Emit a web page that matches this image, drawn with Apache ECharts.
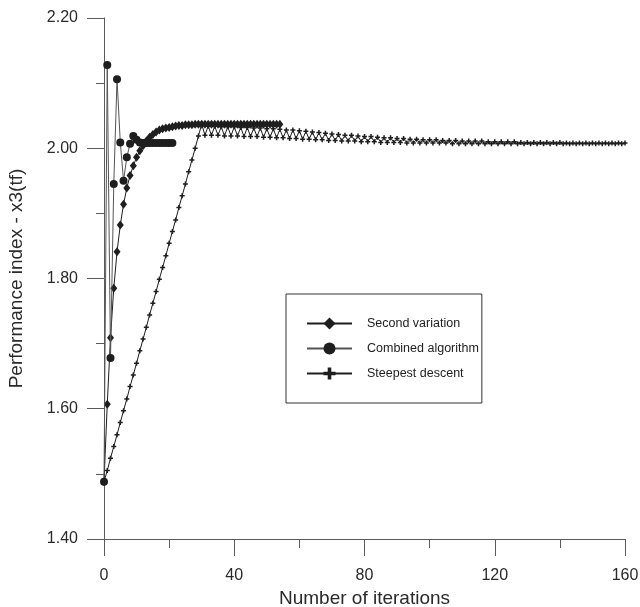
<!DOCTYPE html>
<html>
<head>
<meta charset="utf-8">
<script src="https://cdn.jsdelivr.net/npm/echarts@6/dist/echarts.min.js"></script>
<style>
  html, body { margin: 0; padding: 0; background: #ffffff; }
  #chart { width: 640px; height: 607px; }
</style>
</head>
<body>
<div id="chart"></div>
<script>
// Performance index x3(tf) per iteration for three optimisation methods
const seriesNames = ['Second variation', 'Combined algorithm', 'Steepest descent'];

// Second variation, iterations 0..54
const secondVariation = [
  1.488, 1.607, 1.709, 1.785, 1.841, 1.882, 1.914, 1.939, 1.958, 1.973,
  1.986, 1.996, 2.004, 2.011, 2.017, 2.021, 2.025, 2.028, 2.030, 2.031,
  2.032, 2.033, 2.034, 2.035, 2.035, 2.036, 2.036, 2.036, 2.037, 2.037,
  2.037, 2.037, 2.037, 2.037, 2.037, 2.037, 2.037, 2.037, 2.037, 2.037,
  2.037, 2.037, 2.037, 2.037, 2.037, 2.037, 2.037, 2.037, 2.037, 2.037,
  2.037, 2.037, 2.037, 2.037, 2.037
];

// Combined algorithm, iterations 0..21
const combinedAlgorithm = [
  1.488, 2.128, 1.678, 1.945, 2.106, 2.009, 1.950, 1.986, 2.007, 2.019,
  2.013, 2.009, 2.008, 2.008, 2.008, 2.008, 2.008, 2.008, 2.008, 2.008,
  2.008, 2.008
];

// Steepest descent, iterations 0..160
const steepestDescent = [
  1.488, 1.505, 1.524, 1.542, 1.560, 1.579, 1.597, 1.615, 1.634, 1.652,
  1.670, 1.689, 1.707, 1.725, 1.744, 1.762, 1.780, 1.799, 1.817, 1.835,
  1.854, 1.872, 1.890, 1.909, 1.927, 1.945, 1.964, 1.982, 2.000, 2.019,
  2.037,
  2.020, 2.034, 2.020, 2.034, 2.020, 2.033, 2.019, 2.033, 2.019, 2.033,
  2.019, 2.032, 2.018, 2.032, 2.018, 2.031, 2.018, 2.031, 2.017, 2.030,
  2.017, 2.030, 2.016, 2.029, 2.016, 2.028, 2.015, 2.028, 2.015, 2.027,
  2.014, 2.026, 2.014, 2.025, 2.013, 2.024, 2.013, 2.023, 2.012, 2.022,
  2.012, 2.021, 2.011, 2.020, 2.011, 2.020, 2.011, 2.019, 2.010, 2.018,
  2.010, 2.018, 2.010, 2.017, 2.009, 2.016, 2.009, 2.016, 2.009, 2.015,
  2.009, 2.015, 2.008, 2.014, 2.008, 2.014, 2.008, 2.013, 2.008, 2.013,
  2.008, 2.013, 2.008, 2.012, 2.008, 2.012, 2.007, 2.012, 2.007, 2.011,
  2.007, 2.011, 2.007, 2.011, 2.007, 2.011, 2.007, 2.010, 2.007, 2.010,
  2.007, 2.010, 2.007, 2.010, 2.007, 2.010, 2.007, 2.009, 2.007, 2.009,
  2.007, 2.009, 2.007, 2.009, 2.007, 2.009, 2.007, 2.009, 2.007, 2.009,
  2.007, 2.008, 2.007, 2.008, 2.007, 2.008, 2.007, 2.008, 2.007, 2.008,
  2.007, 2.008, 2.007, 2.008, 2.007, 2.008, 2.007, 2.008, 2.007, 2.008
];

// Axis extents and tick spacing
const xRange = [0, 160, 40];
const yRange = [1.40, 2.20, 0.20];

const toPoints = arr => arr.map((v, i) => [i, v]);

const FONT = '"Liberation Sans", Arial, sans-serif';
const INK = '#1e1e1e';
const TEXT = '#2a2a2a';
const AXIS = '#5a5a5a';
// plus-shaped marker, arms 30% of the box
const PLUS = 'path://M3.5,0 H6.5 V3.5 H10 V6.5 H6.5 V10 H3.5 V6.5 H0 V3.5 H3.5 Z';

const chart = echarts.init(document.getElementById('chart'), null, { renderer: 'canvas' });

chart.setOption({
  backgroundColor: '#ffffff',
  animation: false,
  grid: {
    left: 104, right: 15, top: 18, bottom: 68,
    containLabel: false,
    outerBoundsMode: 'none'
  },
  xAxis: {
    type: 'value',
    min: xRange[0], max: xRange[1], interval: xRange[2],
    name: 'Number of iterations',
    nameLocation: 'middle',
    nameGap: 46,
    nameTextStyle: { fontFamily: FONT, fontSize: 19, color: TEXT },
    axisLine: { show: true, lineStyle: { color: AXIS, width: 1 } },
    axisTick: { show: true, inside: false, length: 17, lineStyle: { color: AXIS } },
    minorTick: { show: true, splitNumber: 2, length: 9, lineStyle: { color: AXIS } },
    axisLabel: { margin: 29, fontFamily: FONT, fontSize: 16, color: TEXT },
    splitLine: { show: false }
  },
  yAxis: {
    type: 'value',
    min: yRange[0], max: yRange[1], interval: yRange[2],
    name: 'Performance index - x3(tf)',
    nameLocation: 'middle',
    nameRotate: 90,
    nameGap: 78,
    nameTextStyle: { fontFamily: FONT, fontSize: 19, color: TEXT },
    axisLine: { show: true, lineStyle: { color: AXIS, width: 1 } },
    axisTick: { show: true, inside: false, length: 17, lineStyle: { color: AXIS } },
    minorTick: { show: true, splitNumber: 2, length: 8, lineStyle: { color: AXIS } },
    axisLabel: {
      margin: 26, fontFamily: FONT, fontSize: 16, color: TEXT,
      formatter: v => v.toFixed(2)
    },
    splitLine: { show: false }
  },
  legend: {
    orient: 'vertical',
    left: 286, top: 294,
    padding: [23, 3, 23, 20],
    itemWidth: 45, itemHeight: 15, itemGap: 12,
    borderColor: '#333333', borderWidth: 1,
    backgroundColor: '#ffffff',
    textStyle: { fontFamily: FONT, fontSize: 12.5, color: '#222222', padding: [0, 0, 0, 10] },
    data: seriesNames
  },
  series: [
    {
      name: seriesNames[0],
      type: 'line',
      data: toPoints(secondVariation),
      symbol: 'diamond', symbolSize: [7, 9],
      showAllSymbol: true,
      lineStyle: { color: INK, width: 1 },
      itemStyle: { color: INK, borderWidth: 0 },
      z: 2
    },
    {
      name: seriesNames[1],
      type: 'line',
      data: toPoints(combinedAlgorithm),
      symbol: 'circle', symbolSize: 8,
      showAllSymbol: true,
      lineStyle: { color: '#555555', width: 1 },
      itemStyle: { color: INK, borderWidth: 0 },
      z: 3
    },
    {
      name: seriesNames[2],
      type: 'line',
      data: toPoints(steepestDescent),
      symbol: PLUS, symbolSize: 5,
      showAllSymbol: true,
      lineStyle: { color: INK, width: 1 },
      itemStyle: { color: INK, borderWidth: 0 },
      z: 4
    }
  ]
});
</script>
</body>
</html>
